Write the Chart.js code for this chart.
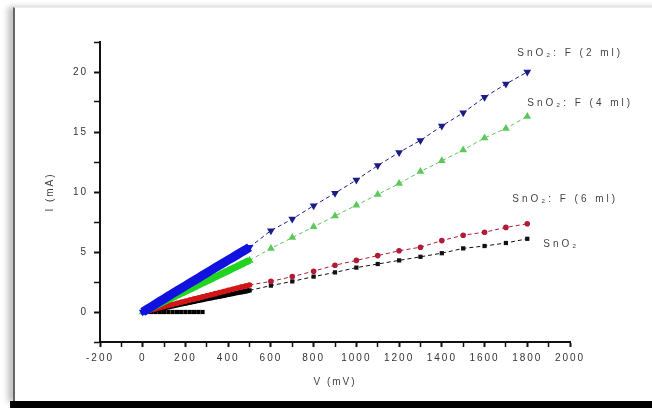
<!DOCTYPE html>
<html>
<head>
<meta charset="utf-8">
<script src="https://cdn.jsdelivr.net/npm/chart.js@4.4.1/dist/chart.umd.min.js"></script>
<style>
    html, body { margin: 0; padding: 0; background: #fff; }
    #wrap { position: relative; width: 652px; height: 408px; overflow: hidden; background: #fff; }
    #panel {
        position: absolute; left: 13px; top: 7px; width: 650px; height: 394px;
        background: #fff; border-left: 2px solid #666; border-top: 1px solid #ececec;
        box-shadow: -5px 0 6px rgba(0, 0, 0, 0.25);
    }
    #bottom { position: absolute; left: 10px; top: 401px; width: 660px; height: 10px; background: #000; }
    canvas { position: absolute; left: 0; top: 0; }
</style>
</head>
<body>
<div id="wrap">
    <div id="panel"></div>
    <div id="bottom"></div>
    <canvas id="my-chart" width="652" height="408"></canvas>
</div>
<script>
// voltage sweep (mV), dense part then every 100 mV
const voltage = [0, 20, 40, 60, 80, 100, 120, 140, 160, 180, 200, 220, 240, 260, 280, 300, 320, 340, 360, 380, 400, 420, 440, 460, 480, 500,
    600, 700, 800, 900, 1000, 1100, 1200, 1300, 1400, 1500, 1600, 1700, 1800];

// current (mA)
const current2ml = [0, 0.22, 0.44, 0.66, 0.88, 1.1, 1.32, 1.54, 1.76, 1.97, 2.19, 2.4, 2.62, 2.83, 3.05, 3.26, 3.48, 3.69, 3.9, 4.11, 4.33, 4.54, 4.75, 4.96, 5.17, 5.4,
    6.78, 7.75, 8.86, 9.9, 11.0, 12.2, 13.3, 14.3, 15.5, 16.6, 17.9, 19.0, 20.0];
const current4ml = [0, 0.17, 0.34, 0.52, 0.69, 0.86, 1.03, 1.2, 1.38, 1.55, 1.72, 1.89, 2.06, 2.24, 2.41, 2.58, 2.75, 2.92, 3.1, 3.27, 3.44, 3.61, 3.78, 3.96, 4.13, 4.3,
    5.3, 6.2, 7.1, 8.0, 8.9, 9.8, 10.7, 11.7, 12.6, 13.5, 14.5, 15.3, 16.3];
const current6ml = [0, 0.09, 0.18, 0.27, 0.36, 0.45, 0.54, 0.63, 0.72, 0.81, 0.9, 0.99, 1.08, 1.17, 1.26, 1.35, 1.44, 1.53, 1.62, 1.71, 1.8, 1.89, 1.98, 2.07, 2.16, 2.25,
    2.55, 2.95, 3.4, 3.9, 4.3, 4.7, 5.1, 5.4, 5.95, 6.4, 6.65, 7.05, 7.35];
const currentSnO2 = [0, 0.05, 0.1, 0.18, 0.26, 0.34, 0.42, 0.5, 0.58, 0.66, 0.73, 0.8, 0.88, 0.95, 1.02, 1.1, 1.17, 1.24, 1.31, 1.38, 1.45, 1.52, 1.59, 1.66, 1.73, 1.8,
    2.2, 2.55, 2.95, 3.3, 3.7, 4.0, 4.3, 4.6, 4.9, 5.3, 5.5, 5.75, 6.1];

// SnO2 points sitting at zero at the start of the sweep
const flatVoltage = [40, 60, 80, 100, 120, 140, 160, 180, 200, 220, 240, 260, 280];
const flatCurrent = [0, 0, 0, 0, 0, 0, 0, 0, 0, 0, 0, 0, 0];

const seriesNames = ["SnO\u2082: F (2 ml)", "SnO\u2082: F (4 ml)", "SnO\u2082: F (6 ml)", "SnO\u2082"];
const xTicks = [-200, 0, 200, 400, 600, 800, 1000, 1200, 1400, 1600, 1800, 2000];
const yTicks = [0, 5, 10, 15, 20];

const toPoints = (xs, ys) => xs.map((x, i) => ({ x: x, y: ys[i] }));

// dense part of the sweep (<= 500 mV) is drawn as a solid bright band, the rest dashed
const isDense = (x) => x <= 500;

const makeSet = (label, ys, bandColor, color, style, rot, radius, band) => ({
    label: label,
    data: toPoints(voltage, ys),
    showLine: true,
    borderColor: color,
    backgroundColor: color,
    pointBackgroundColor: (c) => (c.parsed && isDense(c.parsed.x) ? bandColor : color),
    borderWidth: 1,
    pointStyle: style,
    rotation: rot,
    pointRadius: radius,
    pointBorderWidth: 0,
    tension: 0,
    segment: {
        borderColor: (c) => (isDense(c.p1.parsed.x) ? bandColor : color),
        borderWidth: (c) => (isDense(c.p1.parsed.x) ? band : 1),
        borderDash: (c) => (isDense(c.p1.parsed.x) ? [] : [4, 3]),
    },
});

// end-of-curve label offsets (px)
const labelOffsets = [[-10, -19], [0, -13], [-15, -25], [16, 5]];

const curveLabels = {
    id: "curveLabels",
    beforeDraw(chart) {
        chart.ctx.letterSpacing = "2px";
    },
    afterDatasetsDraw(chart) {
        const ctx = chart.ctx;
        ctx.save();
        ctx.font = "10px 'Liberation Sans', Arial, sans-serif";
        ctx.fillStyle = "#444";
        ctx.textAlign = "left";
        ctx.textBaseline = "middle";
        ctx.letterSpacing = "3px";
        seriesNames.forEach((name, i) => {
            const pts = chart.getDatasetMeta(i).data;
            const last = pts[pts.length - 1];
            ctx.fillText(name, last.x + labelOffsets[i][0], last.y + labelOffsets[i][1]);
        });
        ctx.restore();
    },
};

const tickFont = { family: "'Liberation Sans', Arial, sans-serif", size: 10 };

const ctx = document.getElementById("my-chart").getContext("2d");
const chart = new Chart(ctx, {
    type: "scatter",
    data: {
        datasets: [
            makeSet(seriesNames[0], current2ml, "#1212e0", "#1c1c88", "triangle", 180, 4.5, 9),
            makeSet(seriesNames[1], current4ml, "#22d422", "#5cc85c", "triangle", 0, 4.5, 7),
            makeSet(seriesNames[2], current6ml, "#d01616", "#b01c34", "circle", 0, 2.8, 5),
            makeSet(seriesNames[3], currentSnO2, "#000000", "#111111", "rect", 0, 3, 5),
            {
                label: "SnO2 zero",
                data: toPoints(flatVoltage, flatCurrent),
                backgroundColor: "#000",
                borderColor: "#000",
                pointStyle: "rect",
                pointRadius: 3,
                pointBorderWidth: 0,
                showLine: false,
            },
        ],
    },
    options: {
        responsive: false,
        animation: false,
        layout: { padding: { left: 30, top: 42, right: 82, bottom: 0 } },
        plugins: { legend: { display: false }, tooltip: { enabled: false } },
        scales: {
            x: {
                type: "linear",
                min: -200,
                max: 2000,
                afterFit(scale) { scale.height = 66; },
                afterBuildTicks(scale) {
                    scale.ticks = [];
                    for (let v = -200; v <= 2000; v += 100) scale.ticks.push({ value: v });
                },
                ticks: {
                    autoSkip: false,
                    maxRotation: 0,
                    padding: 5,
                    color: "#333",
                    font: tickFont,
                    callback: (v) => (xTicks.includes(v) ? String(v) : ""),
                },
                grid: {
                    drawOnChartArea: false,
                    tickLength: 5,
                    tickColor: "#111",
                    tickWidth: (c) => (xTicks.includes(c.tick.value) ? 2 : 1.5),
                },
                border: { color: "#111", width: 2 },
                title: {
                    display: true,
                    text: "V (mV)",
                    color: "#444",
                    font: tickFont,
                    padding: { top: 4, bottom: 20 },
                },
            },
            y: {
                min: -2.5,
                max: 22.5,
                afterFit(scale) { scale.width = 70; },
                afterBuildTicks(scale) {
                    scale.ticks = [];
                    for (let v = -2.5; v <= 22.5; v += 2.5) scale.ticks.push({ value: v });
                },
                ticks: {
                    autoSkip: false,
                    padding: 6,
                    color: "#333",
                    font: tickFont,
                    callback: (v) => (yTicks.includes(v) ? String(v) : ""),
                },
                grid: {
                    drawOnChartArea: false,
                    tickLength: 6,
                    tickColor: "#111",
                    tickWidth: (c) => (yTicks.includes(c.tick.value) ? 2 : 1.5),
                },
                border: { color: "#111", width: 2 },
                title: {
                    display: true,
                    text: "I (mA)",
                    color: "#444",
                    font: tickFont,
                    padding: { top: 14, bottom: 4 },
                },
            },
        },
    },
    plugins: [curveLabels],
});
</script>
</body>
</html>
